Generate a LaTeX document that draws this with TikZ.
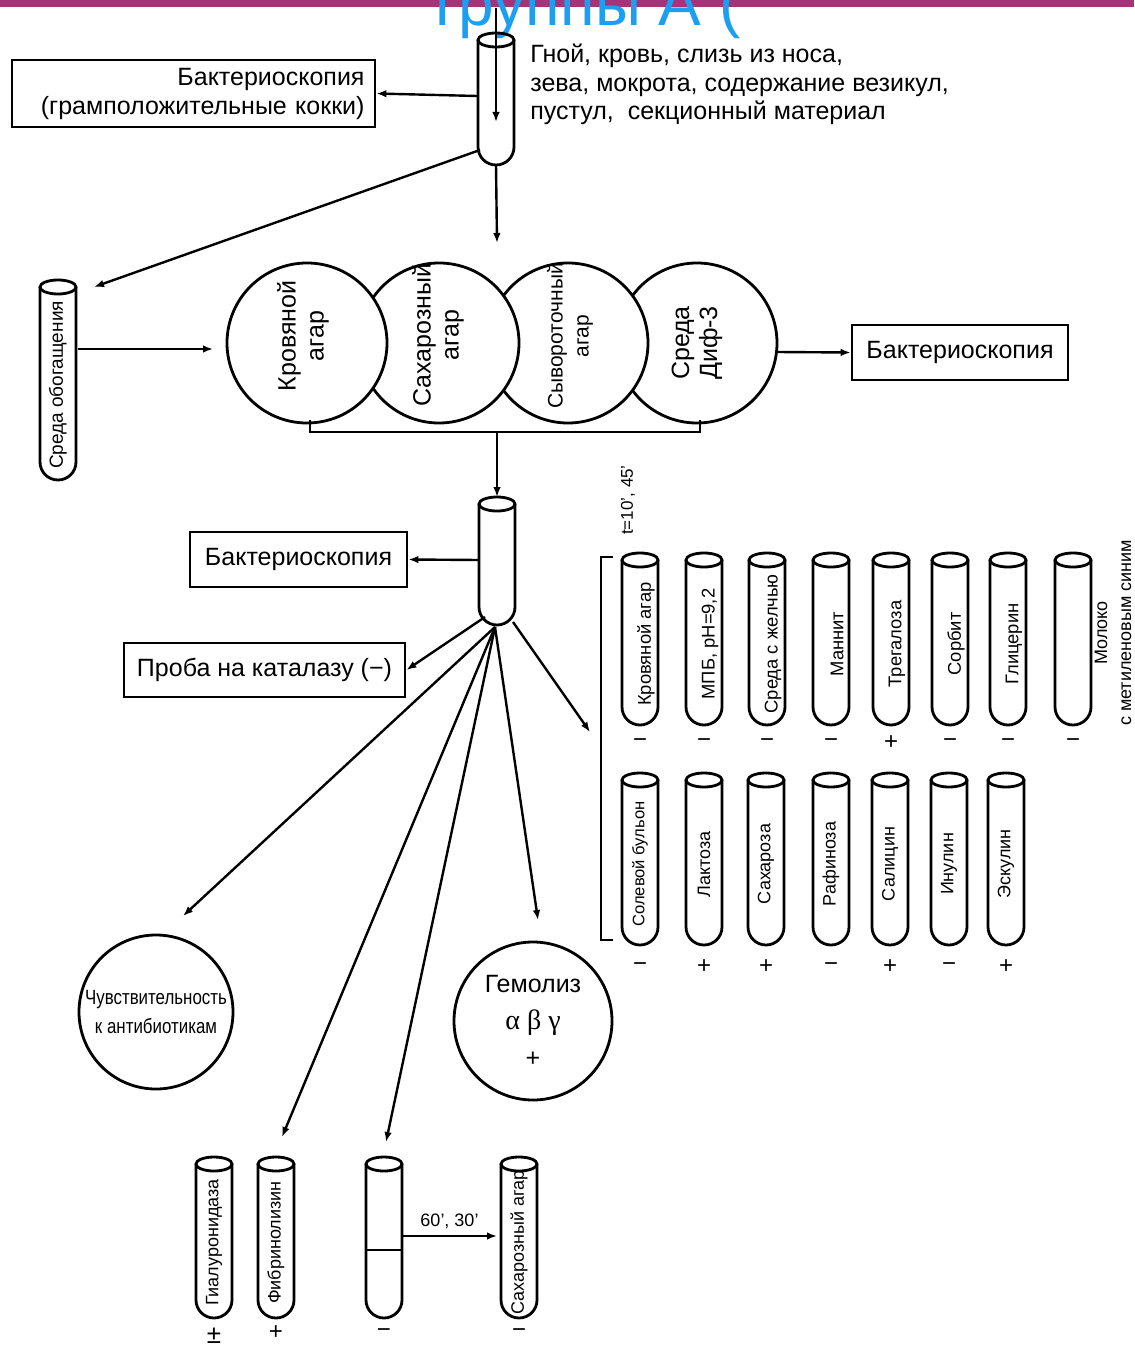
\documentclass[tikz,border=0pt]{standalone}
\usepackage{fontspec}
\setmainfont{Liberation Sans}
\newfontfamily\narrowfont[FakeStretch=0.82]{Liberation Sans}
\newfontfamily\greekfont{Liberation Serif}
\usetikzlibrary{arrows.meta}
\definecolor{barmag}{RGB}{168,50,120}
\definecolor{titleblue}{RGB}{30,158,240}
\newcommand\ttube[6][]{% [label style] name, cx, ytop, ybot, label
  \draw[tubeline, rounded corners=9pt] ({#3-18},{#4+7}) -- ({#3-18},#5) -- ({#3+18},#5) -- ({#3+18},{#4+7});
  \draw[tubeline] (#3,{#4+7}) ellipse [x radius=18, y radius=7];
  \coordinate (#2-top) at (#3,#4);
  \coordinate (#2-bot) at (#3,#5);
  \node[tubelabel,#1] (#2) at (#3,{(#4+#5)/2+5}) {#6};
}
\begin{document}
\begin{tikzpicture}[x=0.5pt,y=-0.5pt,
  tubeline/.style={line width=1.4pt},
  arr/.style={line width=1.2pt,-{Latex[length=5pt,width=3.8pt]}},
  box/.style={draw,line width=1.4pt,inner sep=0pt,font=\fontsize{12.5}{14.5}\selectfont},
  agar/.style={draw,circle,line width=1.4pt,fill=white,minimum size=80pt,inner sep=0pt},
  ctext/.style={rotate=90,align=center,inner sep=0pt,font=\fontsize{12.5}{14}\selectfont},
  tubelabel/.style={rotate=90,inner sep=0pt,font=\fontsize{8.3}{9}\selectfont},
  toplabel/.style={font=\fontsize{9.2}{10}\selectfont,yshift=-3pt},
  botlabel/.style={font=\fontsize{9}{10}\selectfont},
  sign/.style={inner sep=0pt,font=\fontsize{12}{12}\selectfont},
]
\useasboundingbox (0,0) rectangle (1134,1353);
% header
\fill[barmag] (0,0) rectangle (1134,7);
\begin{scope}
  \clip (0,0) rectangle (1134,40);
  \node[titleblue,anchor=base,inner sep=0pt,font=\fontsize{32}{36}\selectfont] (title) at (588,26) {группы А (};
\end{scope}

% source tube
\ttube{src}{496}{33}{165}{}
\coordinate (srcin) at (496,8);
\draw[arr] (srcin) -- (496,122);
\node[anchor=north west,inner sep=0pt,align=left,font=\fontsize{12.5}{14.25}\selectfont] (material) at (530,44)
  {Гной, кровь, слизь из носа,\\зева, мокрота, содержание везикул,\\пустул,\ \ секционный материал};

% bacterioscopy top-left
\node[box,minimum width=181.5pt,minimum height=33.5pt,text width=171pt,inner xsep=5pt,align=right] (bact1) at (193.5,93.5)
  {Бактериоскопия\\(грамположительные кокки)};
\coordinate (srcL) at (477,96);
\draw[arr] (srcL) -- (bact1.east);

% enrichment tube
\ttube[font=\fontsize{9.5}{10}\selectfont]{enr}{58}{280}{480}{Среда обогащения}
\coordinate (srcBL) at (480,150);
\coordinate (enrTip) at (94,287);
\draw[arr] (srcBL) -- (enrTip);

% circles (right drawn first)
\node[agar] (c4) at (697,343) {};
\node[agar] (c3) at (568,343) {};
\node[agar] (c2) at (439,343) {};
\node[agar] (c1) at (307,343) {};
\node[ctext] (t1) at (303,336) {Кровяной\\агар};
\node[ctext] (t2) at (438,335) {Сахарозный\\агар};
\node[ctext,font=\fontsize{10.5}{13}\selectfont] (t3) at (570,336) {Сывороточный\\агар};
\node[ctext] (t4) at (697,343) {Среда\\Диф-3};

\coordinate (enrR) at (78,349);
\coordinate (c1tip) at (213,349);
\draw[arr] (enrR) -- (c1tip);
\draw[arr] (src-bot) -- (497,243);

% right bacterioscopy
\node[box,minimum width=108pt,minimum height=27.5pt] (bact2) at (960,352.5) {Бактериоскопия};
\coordinate (c4R) at (777,352);
\draw[arr] (c4R) -- (bact2.west);

% bracket under circles
\draw[line width=1.4pt] (310,420) -- (310,432) -- (700,432) -- (700,420);
\coordinate (brk) at (497,432);

% central tube
\ttube{mid}{497}{497}{625}{}
\draw[arr] (brk) -- (mid-top);

\node[box,minimum width=108.5pt,minimum height=27.5pt] (bact3) at (298.5,559.5) {Бактериоскопия};
\coordinate (midL) at (479,560);
\draw[arr] (midL) -- (bact3.east);

\node[box,minimum width=140.5pt,minimum height=27pt] (kat) at (264.5,670) {Проба на каталазу (−)};
\coordinate (midBL) at (485,617);
\draw[arr] (midBL) -- (kat.east);

% sensitivity circle and hemolysis
\node[draw,circle,line width=1.4pt,minimum size=77pt,inner sep=0pt,align=center,font=\narrowfont\fontsize{10.3}{14.5}\selectfont] (sens) at (156,1012) {Чувствительность\\к антибиотикам};
\node[draw,circle,line width=1.4pt,minimum size=79pt,inner sep=0pt,align=center,font=\fontsize{12.5}{18.5}\selectfont] (hem) at (533,1021) {Гемолиз\\{\greekfont\fontsize{14}{18.5}\selectfont α β γ}\\+};

% rays
\coordinate (o) at (495,627);
\coordinate (rA) at (183,916);
\coordinate (rB) at (282,1137);
\coordinate (rC) at (386,1142);
\coordinate (rD) at (538,920);
\coordinate (rEs) at (513,622);
\coordinate (rE) at (590,732);
\draw[arr] (o) -- (rA);
\draw[arr] (o) -- (rB);
\draw[arr] (o) -- (rC);
\draw[arr] (o) -- (rD);
\draw[arr] (rEs) -- (rE);

% test tube grid
\draw[line width=1.4pt] (613,557) -- (601,557) -- (601,940) -- (613,940);
\node[tubelabel,font=\fontsize{8.5}{9}\selectfont] (temp) at (628,500) {t=10', 45'};
\ttube[toplabel]{a1}{640}{553}{725}{Кровяной агар}
\ttube[toplabel]{a2}{704}{553}{725}{МПБ, pH=9,2}
\ttube[toplabel]{a3}{767}{553}{725}{Среда с желчью}
\ttube[toplabel]{a4}{831}{553}{725}{Маннит}
\ttube[toplabel]{a5}{891}{553}{725}{Трегалоза}
\ttube[toplabel]{a6}{950}{553}{725}{Сорбит}
\ttube[toplabel]{a7}{1008}{553}{725}{Глицерин}
\ttube{a8}{1073}{553}{725}{}
\node[tubelabel,align=center,font=\fontsize{9}{12}\selectfont] (milk) at (1113,633) {Молоко\\с метиленовым синим};
\foreach \x/\s in {640/−,704/−,767/−,831/−,891/+,950/−,1008/−,1073/−}
  \node[sign] at (\x,743) {\s};

\ttube{b1}{640}{773}{945}{Солевой бульон}
\ttube[botlabel]{b2}{704}{773}{945}{Лактоза}
\ttube[botlabel]{b3}{766}{773}{945}{Сахароза}
\ttube[botlabel]{b4}{831}{773}{945}{Рафиноза}
\ttube[botlabel]{b5}{890}{773}{945}{Салицин}
\ttube[botlabel]{b6}{949}{773}{945}{Инулин}
\ttube[botlabel]{b7}{1006}{773}{945}{Эскулин}
\foreach \x/\s in {640/−,704/+,766/+,831/−,890/+,949/−,1006/+}
  \node[sign] at (\x,967) {\s};

% bottom tubes
\ttube[font=\fontsize{9}{10}\selectfont]{g1}{214}{1157}{1318}{Гиалуронидаза}
\ttube[font=\fontsize{9}{10}\selectfont]{g2}{276}{1157}{1318}{Фибринолизин}
\ttube{g3}{384}{1157}{1318}{}
\draw[tubeline] (366,1250) -- (402,1250);
\ttube[font=\fontsize{9}{10}\selectfont]{g4}{519}{1157}{1318}{Сахарозный агар}
\coordinate (g3R) at (402,1236);
\coordinate (g4L) at (497,1236);
\draw[arr] (g3R) -- node[above=3pt,inner sep=0pt,font=\fontsize{9}{10}\selectfont] {60', 30'} (g4L);
\node[sign,font=\fontsize{13}{13}\selectfont] at (214,1336) {±};
\node[sign] at (276,1333) {+};
\node[sign] at (384,1333) {−};
\node[sign] at (519,1333) {−};
\end{tikzpicture}
\end{document}
